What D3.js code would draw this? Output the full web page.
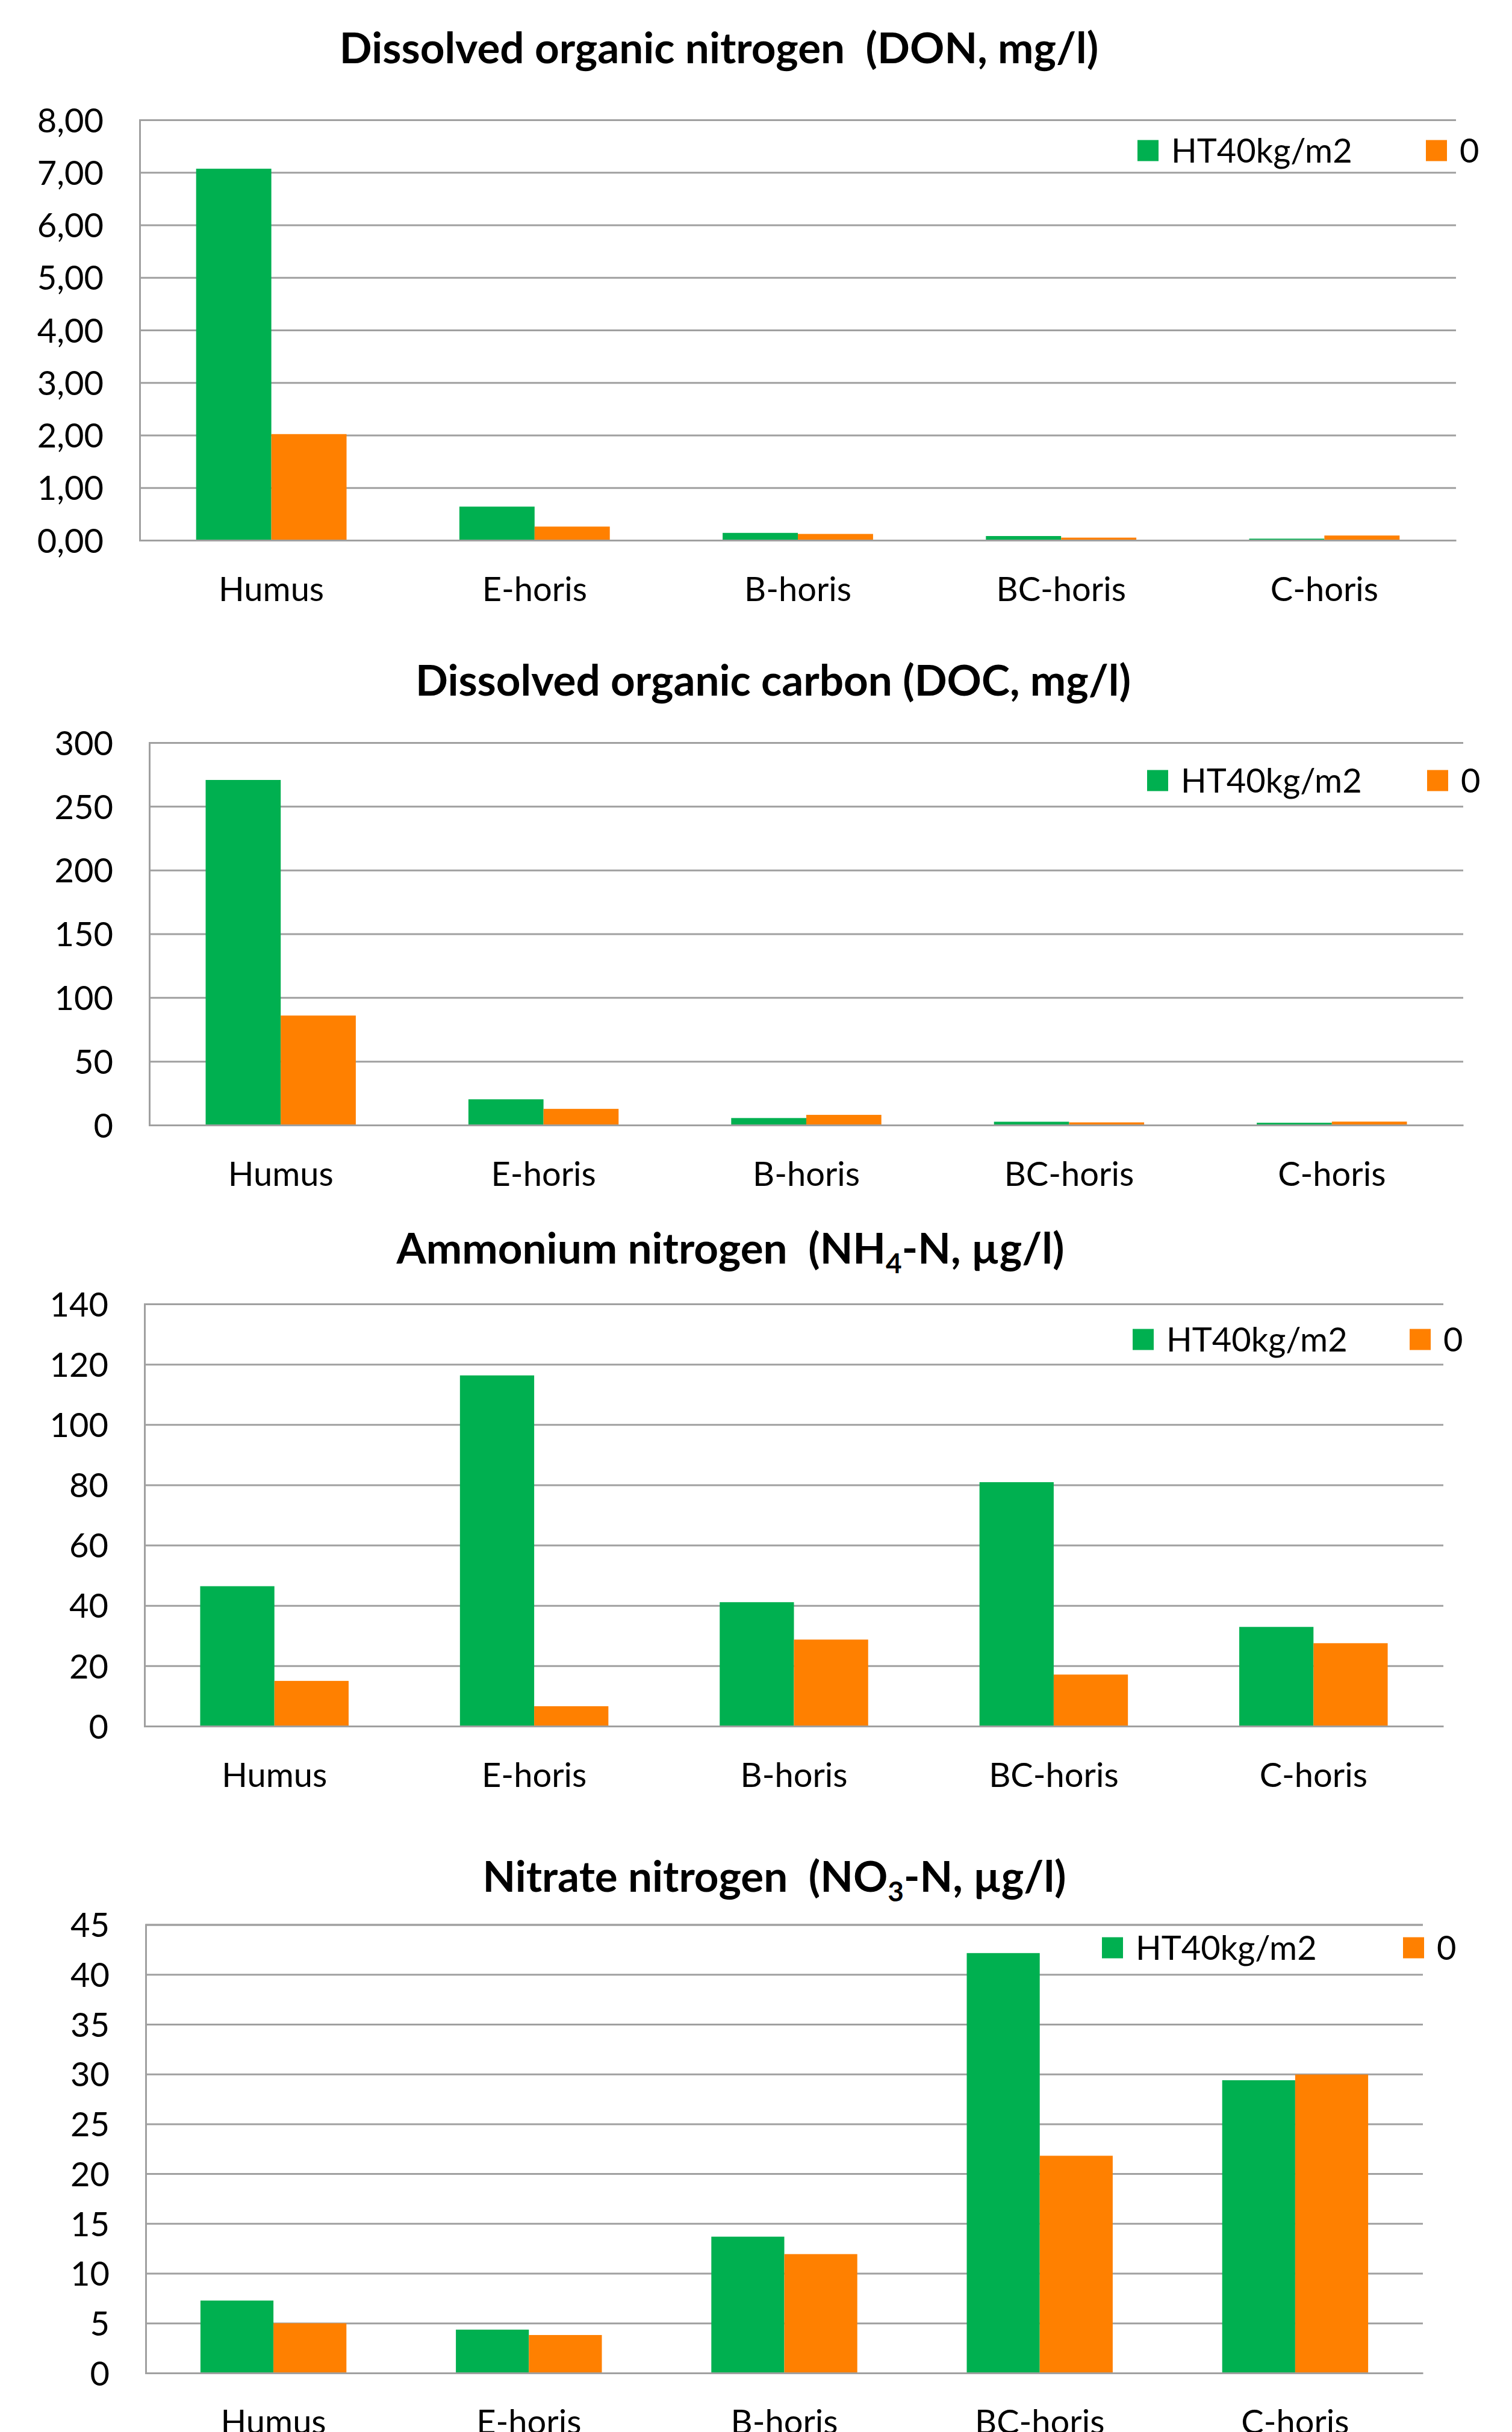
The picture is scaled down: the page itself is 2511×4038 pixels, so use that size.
<!DOCTYPE html>
<html>
<head>
<meta charset="utf-8">
<script src="https://cdn.jsdelivr.net/npm/d3@7"></script>
<style>
  body { margin: 0; background: #fff; }
  svg { display: block; font-family: Lato, "Open Sans", sans-serif; }
</style>
</head>
<body>
<div id="chart"></div>
<script>
/* soil water chemistry, four grouped bar charts */

const categories = ["Humus", "E-horis", "B-horis", "BC-horis", "C-horis"];
const series = ["HT40kg/m2", "0"];

// values
const donHT = [7.07, 0.64, 0.14, 0.08, 0.03];
const don0 = [2.02, 0.26, 0.12, 0.05, 0.09];
const docHT = [270.7, 20.2, 5.5, 2.6, 1.8];
const doc0 = [85.9, 12.7, 8.0, 2.1, 2.7];
const nh4HT = [46.4, 116.3, 41.1, 80.9, 32.9];
const nh40 = [15.0, 6.6, 28.7, 17.1, 27.5];
const no3HT = [7.27, 4.35, 13.68, 42.14, 29.38];
const no30 = [4.99, 3.81, 11.93, 21.8, 29.95];

// y ticks
const donTicks = [0, 1, 2, 3, 4, 5, 6, 7, 8];
const docTicks = [0, 50, 100, 150, 200, 250, 300];
const nh4Ticks = [0, 20, 40, 60, 80, 100, 120, 140];
const no3Ticks = [0, 5, 10, 15, 20, 25, 30, 35, 40, 45];

const colors = ["#00b050", "#ff8000"];
const width = 2511, height = 4038;

let svg = d3.select("#chart")
    .append("svg")
    .attr("width", width)
    .attr("height", height)
    .attr("viewBox", [0, 0, width, height]);

svg.append("rect").attr("width", width).attr("height", height).attr("fill", "#fff");

/* layout for each panel (pixels), data comes from the arrays above */
const panels = [
    { title: [["Dissolved organic nitrogen  (DON, mg/l)"]], titleX: 1194, titleY: 105,
      ht: donHT, zero: don0, ticks: donTicks, fmt: d => d.toFixed(2).replace(".", ","),
      left: 232, right: 2418, top: 199, bottom: 897, legX: [1889, 2368], legY: 250 },
    { title: [["Dissolved organic carbon (DOC, mg/l)"]], titleX: 1284, titleY: 1155,
      ht: docHT, zero: doc0, ticks: docTicks, fmt: d => d,
      left: 248, right: 2430, top: 1233, bottom: 1868, legX: [1905, 2370], legY: 1296 },
    { title: [["Ammonium nitrogen  (NH"], ["4", "sub"], ["-N, µg/l)"]], titleX: 1213, titleY: 2098,
      ht: nh4HT, zero: nh40, ticks: nh4Ticks, fmt: d => d,
      left: 240, right: 2397, top: 2165, bottom: 2866, legX: [1881, 2341], legY: 2224 },
    { title: [["Nitrate nitrogen  (NO"], ["3", "sub"], ["-N, µg/l)"]], titleX: 1286, titleY: 3141,
      ht: no3HT, zero: no30, ticks: no3Ticks, fmt: d => d,
      left: 242, right: 2363, top: 3195.5, bottom: 3940, legX: [1830, 2330], legY: 3234 }
];

panels.forEach(p => {
    let g = svg.append("g");

    let data = categories.map((c, i) => ({ cat: c, vals: [p.ht[i], p.zero[i]] }));

    let x0 = d3.scaleBand()
        .domain(categories)
        .range([p.left, p.right])
        .paddingInner(3 / 7)   // excel gap width 150%
        .paddingOuter(3 / 14);

    let x1 = d3.scaleBand()
        .domain(d3.range(series.length))
        .range([0, x0.bandwidth()]);

    let y = d3.scaleLinear()
        .domain([0, d3.max(p.ticks)])
        .range([p.bottom, p.top]);

    /* gridlines + y labels */
    let yAxis = g.append("g")
        .attr("transform", `translate(${p.left},0)`)
        .call(d3.axisLeft(y)
            .tickValues(p.ticks)
            .tickFormat(p.fmt)
            .tickSize(-(p.right - p.left))
            .tickPadding(60));
    yAxis.selectAll("line").attr("stroke", "#a0a0a0").attr("stroke-width", 3);
    yAxis.select(".domain").attr("stroke", "#a0a0a0").attr("stroke-width", 3);
    yAxis.selectAll("text")
        .attr("font-size", 56)
        .attr("font-family", "Lato")
        .attr("fill", "#000")
        .attr("dy", "0.36em");

    /* bars */
    let grp = g.selectAll(".grp")
        .data(data)
        .join("g")
        .attr("class", "grp")
        .attr("transform", d => `translate(${x0(d.cat)},0)`);

    grp.selectAll("rect")
        .data(d => d.vals)
        .join("rect")
        .attr("x", (d, i) => x1(i))
        .attr("width", x1.bandwidth())
        .attr("y", d => y(d))
        .attr("height", d => y(0) - y(d))
        .attr("fill", (d, i) => colors[i]);

    /* category axis on top of the bars */
    let xAxis = g.append("g")
        .attr("transform", `translate(0,${p.bottom})`)
        .call(d3.axisBottom(x0).tickSize(0).tickSizeOuter(0));
    xAxis.select(".domain").attr("stroke", "#a0a0a0").attr("stroke-width", 3);
    xAxis.selectAll("text")
        .attr("font-size", 56)
        .attr("font-family", "Lato")
        .attr("fill", "#000")
        .attr("y", 101)
        .attr("dy", 0);

    /* title */
    let t = g.append("text")
        .attr("x", p.titleX)
        .attr("y", p.titleY)
        .attr("text-anchor", "middle")
        .attr("font-size", 71)
        .attr("font-weight", "bold")
        .style("white-space", "pre");
    p.title.forEach(part => {
        let s = t.append("tspan").text(part[0]);
        if (part[1] === "sub") {
            s.attr("font-size", 46).attr("dy", 16);
        } else if (t.selectAll("tspan").size() > 1) {
            s.attr("dy", -16);
        }
    });

    /* legend */
    series.forEach((s, i) => {
        g.append("rect")
            .attr("x", p.legX[i])
            .attr("y", p.legY - 17.5)
            .attr("width", 35)
            .attr("height", 35)
            .attr("fill", colors[i]);
        g.append("text")
            .attr("x", p.legX[i] + 56)
            .attr("y", p.legY)
            .attr("dy", "0.36em")
            .attr("font-size", 56)
            .text(s);
    });
});
</script>
</body>
</html>
